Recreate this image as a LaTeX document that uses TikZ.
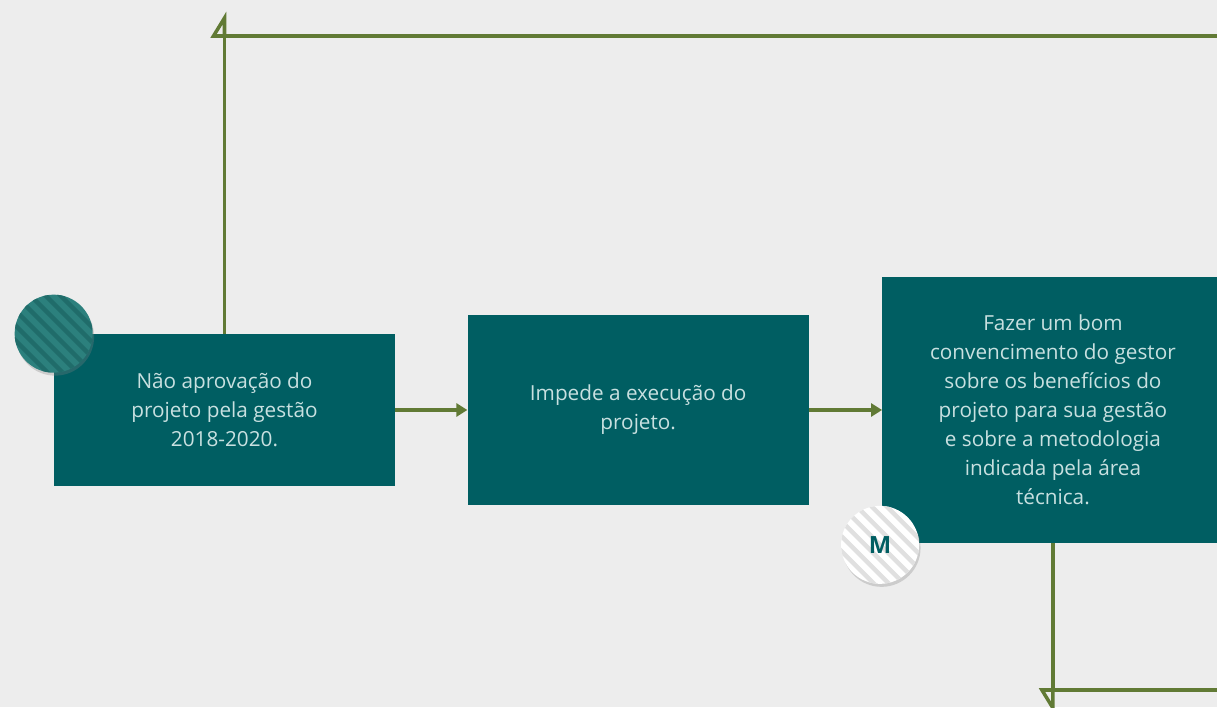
\documentclass[tikz,border=0pt]{standalone}
\usepackage{fontspec}
\setmainfont{Open Sans}
\usetikzlibrary{arrows.meta, positioning, calc, shadows}
\definecolor{bggrey}{RGB}{237,237,237}
\definecolor{boxteal}{RGB}{0,94,98}
\definecolor{txtlight}{RGB}{200,224,224}
\definecolor{linegreen}{RGB}{97,122,53}
\definecolor{discteal}{RGB}{44,128,125}
\definecolor{discdark}{RGB}{32,108,106}
\definecolor{stripegrey}{RGB}{224,224,224}
\tikzset{
  box/.style={rectangle, fill=boxteal, text=txtlight, minimum width=6.82cm,
    align=center, inner sep=0pt, font=\fontsize{11.8}{16.5}\selectfont},
  disc/.style={circle, minimum size=1.56cm, inner sep=0pt,
    drop shadow={shadow xshift=0.03cm, shadow yshift=-0.06cm, opacity=0.3}},
  flow/.style={-{Triangle[length=0.22cm, width=0.26cm]}, line width=2pt, color=linegreen},
  line/.style={line width=2pt, color=linegreen},
  corner/.style={line width=2pt, color=linegreen, line join=miter}
}

\begin{document}
\begin{tikzpicture}
  \useasboundingbox (0,0) rectangle (24.34,14.14);
  \clip (0,0) rectangle (24.34,14.14);
  \fill[bggrey] (0,0) rectangle (24.34,14.14);

  % Boxes
  \node[box, minimum height=3.04cm] (naoaprov) at (4.49,5.94)
    {Não aprovação do\\projeto pela gestão\\2018-2020.};
  \node[box, minimum height=3.8cm, right=1.44cm of naoaprov] (impede)
    {Impede a execução do\\projeto.};
  \node[box, minimum height=5.3cm, right=1.46cm of impede] (fazer)
    {Fazer um bom\\convencimento do gestor\\sobre os benefícios do\\projeto para sua gestão\\e sobre a metodologia\\indicada pela área\\técnica.};

  % Paths
  \draw[flow] (naoaprov) -- (impede);
  \draw[flow] (impede) -- (fazer);

  \coordinate (toprow) at (0,13.42);
  \coordinate (topend) at (24.34,13.42);
  \coordinate (topbend) at (naoaprov.north |- toprow);
  \draw[line] (naoaprov.north) -- (topbend) -- (topend);
  \draw[corner] ($(topbend)+(0,0.36)$) -- ++(-0.22,-0.36) -- (topbend) -- cycle;

  \coordinate (botrow) at (0,0.34);
  \coordinate (botend) at (24.34,0.34);
  \coordinate (botbend) at (fazer.south |- botrow);
  \draw[line] (fazer.south) -- (botbend) -- (botend);
  \draw[corner] ($(botbend)+(-0.22,0)$) -- (botbend) -- ++(0,-0.36) -- cycle;

  % Discs
  \node[disc, fill=discteal] (startdisc) at (naoaprov.north west) {};
  \begin{scope}
    \clip (startdisc.center) circle (0.78);
    \foreach \k in {-6,...,6}
      \draw[discdark, line width=0.09cm] ($(startdisc.center)+(\k*0.3,0)$) ++(-1.2,1.2) -- ++(2.4,-2.4);
  \end{scope}

  \node[disc, fill=white] (mdisc) at ($(fazer.south west)+(-0.04,-0.04)$) {};
  \begin{scope}
    \clip (mdisc.center) circle (0.78);
    \foreach \k in {-6,...,6}
      \draw[stripegrey, line width=0.09cm] ($(mdisc.center)+(\k*0.3,0)$) ++(-1.2,1.2) -- ++(2.4,-2.4);
  \end{scope}
  \node[font=\fontsize{13.5}{15}\selectfont\bfseries, text=boxteal] at (mdisc.center) {M};
\end{tikzpicture}
\end{document}
